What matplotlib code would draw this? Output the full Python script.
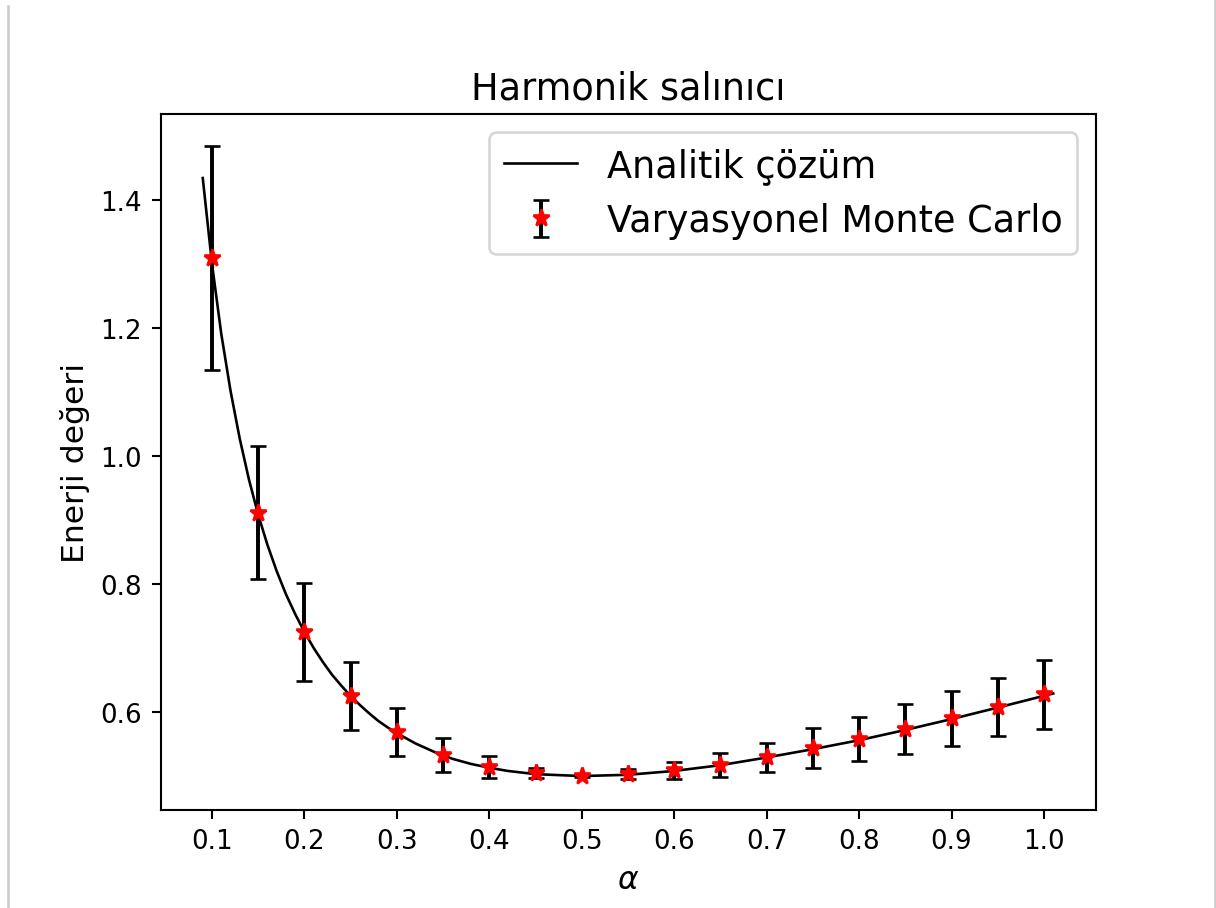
import matplotlib
matplotlib.use("Agg")
import matplotlib.pyplot as plt
from matplotlib.lines import Line2D

# analytic curve
alpha_line = [0.09, 0.10, 0.11, 0.12, 0.13, 0.14, 0.15, 0.16, 0.17, 0.18,
              0.19, 0.20, 0.21, 0.22, 0.23, 0.24, 0.25, 0.26, 0.27, 0.28,
              0.29, 0.30, 0.32, 0.34, 0.36, 0.38, 0.40, 0.42, 0.45, 0.50,
              0.55, 0.60, 0.65, 0.70, 0.75, 0.80, 0.85, 0.90, 0.95, 1.01]
energy_line = [1.434, 1.300, 1.191, 1.102, 1.027, 0.963, 0.908, 0.861, 0.820, 0.784,
               0.753, 0.725, 0.700, 0.678, 0.658, 0.641, 0.625, 0.611, 0.598, 0.586,
               0.576, 0.567, 0.551, 0.538, 0.527, 0.519, 0.513, 0.508, 0.503, 0.500,
               0.502, 0.508, 0.517, 0.529, 0.542, 0.556, 0.572, 0.589, 0.607, 0.629]

# variational Monte Carlo points
alpha_mc = [0.10, 0.15, 0.20, 0.25, 0.30, 0.35, 0.40, 0.45, 0.50, 0.55,
            0.60, 0.65, 0.70, 0.75, 0.80, 0.85, 0.90, 0.95, 1.00]
energy_mc = [1.309, 0.911, 0.725, 0.625, 0.569, 0.533, 0.514, 0.505, 0.500, 0.503,
             0.509, 0.517, 0.529, 0.544, 0.558, 0.573, 0.590, 0.608, 0.628]
err_mc = [0.175, 0.104, 0.077, 0.053, 0.038, 0.026, 0.017, 0.008, 0.001, 0.008,
          0.013, 0.019, 0.023, 0.031, 0.035, 0.039, 0.043, 0.045, 0.054]

xticks = [0.1, 0.2, 0.3, 0.4, 0.5, 0.6, 0.7, 0.8, 0.9, 1.0]

dpi = 188.5
fig = plt.figure(figsize=(1216 / dpi, 909 / dpi), dpi=dpi)
ax = fig.add_axes([160.5 / 1216, 1 - 811 / 909, 935 / 1216, 696 / 909])

ax.plot(alpha_line, energy_line, color="black", linewidth=1, label="Analitik çözüm")
ax.errorbar(alpha_mc, energy_mc, yerr=err_mc, fmt="r*", ecolor="black",
            capsize=3, markersize=6.5, label="Varyasyonel Monte Carlo")

ax.set_xlim(0.0443, 1.0557)
ax.set_ylim(0.447, 1.534)
ax.set_xticks(xticks)
ax.set_title("Harmonik salınıcı", fontsize=14)
ax.set_xlabel(r"$\alpha$", fontsize=12)
ax.set_ylabel("Enerji değeri", fontsize=12)
ax.legend(loc="upper right", fontsize=14)

# thin grey frame lines at the screenshot edges
fig.add_artist(Line2D([8 / 1216, 8 / 1216], [0, 1 - 7 / 909], color="#cccccc", linewidth=1))
fig.add_artist(Line2D([1215 / 1216, 1215 / 1216], [0, 1], color="#cccccc", linewidth=1))

fig.savefig("out.png", dpi=dpi)
